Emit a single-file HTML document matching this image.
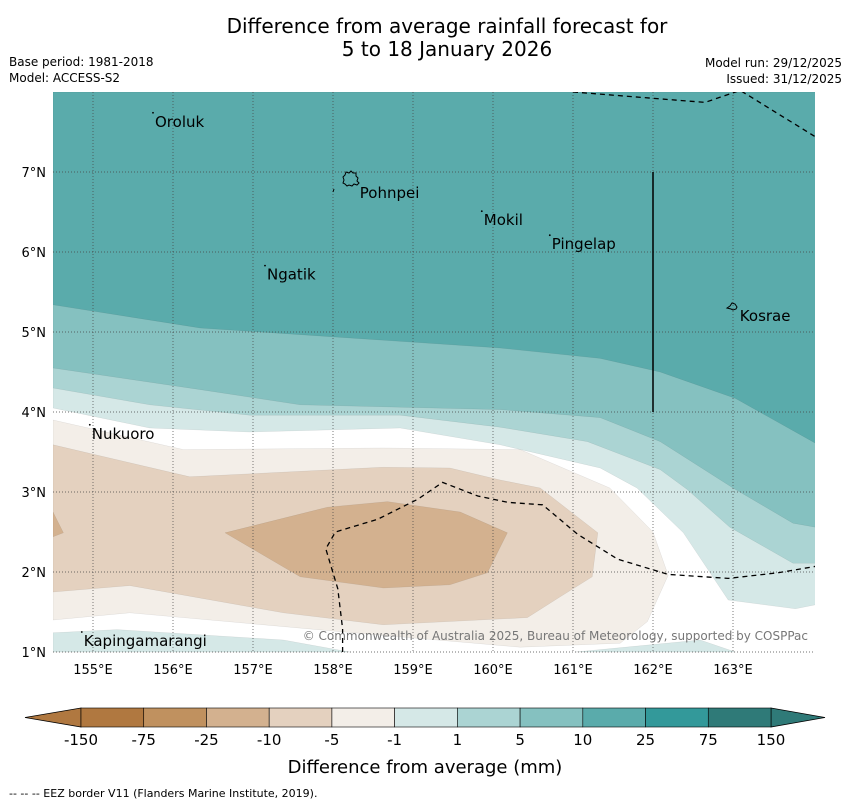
<!DOCTYPE html>
<html><head><meta charset="utf-8">
<style>
html,body{margin:0;padding:0;background:#fff;}
svg{display:block;font-family:"DejaVu Sans","Liberation Sans",sans-serif;}
</style></head>
<body>
<svg id="c" width="850" height="804" xmlns="http://www.w3.org/2000/svg">
<text x="447" y="33" font-size="20" text-anchor="middle">Difference from average rainfall forecast for</text>
<text x="447" y="56" font-size="20" text-anchor="middle">5 to 18 January 2026</text>
<text x="9" y="66" font-size="12">Base period: 1981-2018</text>
<text x="9" y="82" font-size="12">Model: ACCESS-S2</text>
<text x="842" y="67" font-size="12" text-anchor="end">Model run: 29/12/2025</text>
<text x="842" y="83" font-size="12" text-anchor="end">Issued: 31/12/2025</text>
<g id="map"></g>
<g id="cbar"></g>
<text x="425" y="773" font-size="18" text-anchor="middle">Difference from average (mm)</text>
<text x="9" y="797" font-size="11">--  --  -- EEZ border V11 (Flanders Marine Institute, 2019).</text>
</svg>
<script>
const lonTicks=[155,156,157,158,159,160,161,162,163];
const latTicks=[1,2,3,4,5,6,7];
const levels=["-150","-75","-25","-10","-5","-1","1","5","10","25","75","150"];
const colors=["#b07840","#c0915f","#d3b18f","#e4d1bf","#f3eee8","#ffffff","#d5e8e7","#abd4d3","#85c1c0","#5aabab","#33999a","#2f7a78"];
// contour regions as [lon,lat] polygons (traced)
const regT25=[[154.5,8],[164.03,8],[164.03,3.61],[163.03,4.17],[162.09,4.5],[161.34,4.67],[160.09,4.8],[156.34,5.05],[154.5,5.34]];
const regT10=[[154.5,8],[164.03,8],[164.03,2.56],[163.75,2.61],[163.0,3.05],[162.09,3.63],[161.34,3.93],[160.09,4.03],[157.59,4.09],[156.34,4.28],[154.5,4.55]];
const regT5=[[154.5,8],[164.03,8],[164.03,2.11],[163.75,2.11],[162.96,2.56],[162.43,3.03],[162.09,3.28],[161.18,3.63],[160.09,3.81],[158.84,3.96],[156.96,3.96],[155.71,4.09],[154.5,4.3]];
const regT1=[[154.5,8],[164.03,8],[164.03,1.59],[163.78,1.54],[162.94,1.65],[162.38,2.49],[161.8,3.05],[161.34,3.3],[160.09,3.59],[158.84,3.8],[156.96,3.75],[155.71,3.8],[154.5,4.05]];
const regTbot=[[154.5,1.24],[155.3,1.28],[157.38,1.15],[158.21,1.0],[154.5,1.0]];
const regTbotR=[[161.03,1.0],[162.59,1.15],[163.03,1.0]];
const regM1=[[154.5,3.9],[156.13,3.53],[158.63,3.55],[160.34,3.53],[161.46,3.05],[162.0,2.5],[162.19,1.96],[161.93,1.38],[161.59,1.11],[160.34,1.06],[157.8,1.28],[155.46,1.49],[154.5,1.4]];
const regM5=[[154.5,3.59],[156.21,3.19],[158.63,3.31],[159.46,3.3],[160.09,3.15],[160.59,3.05],[161.31,2.49],[161.24,1.94],[160.84,1.69],[160.43,1.43],[158.63,1.34],[157.38,1.49],[155.46,1.83],[154.5,1.75]];
const regM10=[[156.65,2.49],[157.93,2.81],[158.68,2.88],[159.59,2.75],[160.18,2.49],[159.93,1.99],[159.46,1.84],[158.63,1.8],[157.59,1.94]];
const regM10b=[[154.5,2.75],[154.63,2.49],[154.5,2.44]];
const eez1=[[161.0,8.0],[162.65,7.87],[163.09,8.02],[164.03,7.44]];
const eez2=[[158.12,1.0],[158.12,1.29],[158.06,1.79],[157.91,2.29],[158.03,2.5],[158.56,2.66],[159.06,2.91],[159.37,3.12],[159.81,2.95],[160.19,2.87],[160.62,2.84],[161.06,2.47],[161.56,2.16],[162.19,1.97],[162.94,1.92],[163.56,1.99],[164.03,2.07]];
const islands=[["Oroluk",155.75,7.74,1],["Pohnpei",158.31,6.85,0],["Mokil",159.86,6.51,1],["Pingelap",160.71,6.21,1],["Ngatik",157.15,5.83,1],["Kosrae",163.06,5.31,0],["Nukuoro",154.96,3.84,1],["Kapingamarangi",154.86,1.25,1]];

const X0=53,X1=815,Y0=92,Y1=653;
const xs=lon=>X0+(lon-154.5)*80;
const ys=lat=>Y0+(8-lat)*80;
const NS="http://www.w3.org/2000/svg";
const map=document.getElementById('map');
function mk(tag,attrs,parent){const e=document.createElementNS(NS,tag);for(const k in attrs)e.setAttribute(k,attrs[k]);(parent||map).appendChild(e);return e;}
function pts(a){return a.map(p=>xs(p[0]).toFixed(1)+","+ys(p[1]).toFixed(1)).join(" ");}
const clip=mk('clipPath',{id:'mc'});mk('rect',{x:X0,y:Y0,width:X1-X0,height:Y1-Y0},clip);
const g=mk('g',{'clip-path':'url(#mc)'});


mk('rect',{x:X0,y:Y0,width:X1-X0,height:Y1-Y0,fill:'#fff'},g);
const fills=[[regT1,6,'band-1-to-5'],[regT5,7,'band-5-to-10'],[regT10,8,'band-10-to-25'],[regT25,9,'band-25-to-75'],[regTbot,6,'band-1-to-5-south'],[regTbotR,6,'band-1-to-5-southeast'],[regM1,4,'band-minus5-to-minus1'],[regM5,3,'band-minus10-to-minus5'],[regM10,2,'band-minus25-to-minus10'],[regM10b,2,'band-minus25-west']];
fills.forEach(f=>{const p=mk('polygon',{points:pts(f[0]),fill:colors[f[1]],stroke:'rgba(0,0,0,0.1)','stroke-width':0.5},g);

});
lonTicks.forEach(l=>{const ln=mk('line',{x1:xs(l),x2:xs(l),y1:Y0,y2:Y1,stroke:'#444','stroke-width':0.7,'stroke-dasharray':'1,2'},g);

});
latTicks.forEach(l=>{const ln=mk('line',{x1:X0,x2:X1,y1:ys(l),y2:ys(l),stroke:'#444','stroke-width':0.7,'stroke-dasharray':'1,2'},g);

});
[eez1,eez2].forEach(e=>{const p=mk('polyline',{points:pts(e),fill:'none',stroke:'#000','stroke-width':1.3,'stroke-dasharray':'5,4'},g);

});
const sl=mk('line',{x1:xs(162),x2:xs(162),y1:ys(7),y2:ys(4),stroke:'#000','stroke-width':1.5},g);


const pi=mk('path',{d:'M343,177 l2,-2 l1,-3 l3,1 l2,-2 l2,2 l3,0 l0,3 l2,2 l-1,3 l2,2 l-2,2 l-3,-1 l-2,2 l-3,-1 l-2,1 l-2,-2 l-2,-1 l1,-3 z M334,189 l-1,3',fill:'none',stroke:'#000','stroke-width':1},g);


const ko=mk('path',{d:'M727,308 l3,-2 l2,-3 l3,1 l2,3 l-1,2 l-3,1 l-2,-1 z',fill:'none',stroke:'#000','stroke-width':1},g);


const cp=mk('text',{x:808,y:640,'font-size':12,fill:'#777','text-anchor':'end'},g);cp.textContent='\u00A9 Commonwealth of Australia 2025, Bureau of Meteorology, supported by COSPPac';


islands.forEach(i=>{const t=mk('text',{x:xs(i[1])+2,y:ys(i[2])+14,'font-size':15,fill:'#000'});t.textContent=i[0];


if(i[3]){const d=mk('circle',{cx:xs(i[1]),cy:ys(i[2]),r:0.9,fill:'#000'});

}});
lonTicks.forEach(l=>{const t=mk('text',{x:xs(l),y:674,'font-size':13,'text-anchor':'middle'});t.textContent=l+'\u00B0E';

});
latTicks.forEach(l=>{const t=mk('text',{x:46,y:ys(l)+5,'font-size':13,'text-anchor':'end'});t.textContent=l+'\u00B0N';

});
const cb=document.getElementById('cbar');
const CX0=81,CX1=771,CY0=708,CY1=727,n=11,w=(CX1-CX0)/n;
const lt=mk('polygon',{points:`${CX0},${CY0} 25,${(CY0+CY1)/2} ${CX0},${CY1}`,fill:colors[0],stroke:'#000','stroke-width':0.8},cb);


const rt=mk('polygon',{points:`${CX1},${CY0} 825,${(CY0+CY1)/2} ${CX1},${CY1}`,fill:colors[11],stroke:'#000','stroke-width':0.8},cb);


for(let i=0;i<n;i++){const r=mk('rect',{x:CX0+i*w,y:CY0,width:w,height:CY1-CY0,fill:colors[i+(i>=5?1:0)],stroke:'#000','stroke-width':0.6},cb);

}
levels.forEach((l,i)=>{const t=mk('text',{x:CX0+i*w,y:745,'font-size':15,'text-anchor':'middle'},cb);t.textContent=l;

});
</script>
</body></html>
